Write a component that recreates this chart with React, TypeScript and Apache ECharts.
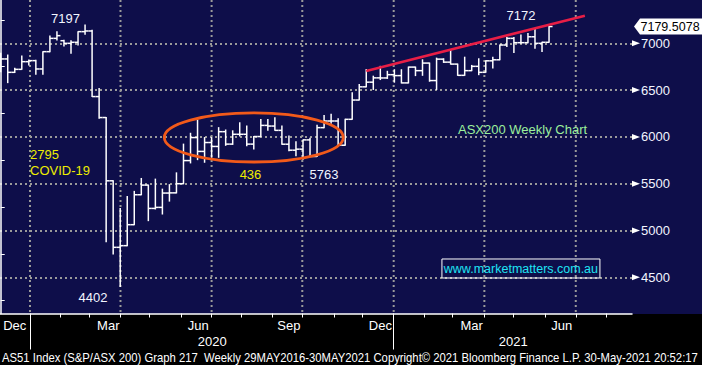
import React, { useEffect, useRef } from "react";
import * as echarts from "echarts";

// ---- weekly OHLC values (index 0 = first visible week, late Nov 2019) ----
const opens = [
  6850, 6833, 6690, 6722, 6804, 6815, 6726, 6911, 7053, 7028,
  7000, 7011, 7125, 7132, 6431, 6207, 5531, 4820, 4838, 5062,
  5382, 5485, 5236, 5247, 5400, 5402, 5500, 5747, 5993, 5845,
  5940, 5898, 6056, 5923, 6028, 6028, 5923, 6004, 6123, 6116,
  6070, 5922, 5858, 5869, 5968, 5791, 6099, 6170, 6170, 5911,
  6188, 6394, 6535, 6585, 6631, 6630, 6665, 6655, 6577, 6746,
  6708, 6789, 6602, 6831, 6799, 6778, 6658, 6708, 6754, 6690,
  6813, 6824, 6982, 7053, 7007, 7007, 7070, 7000, 7011,
];
const highs = [
  6893, 6875, 6733, 6864, 6822, 6820, 6911, 7078, 7125, 7032,
  7028, 7125, 7197, 7140, 6516, 6207, 5531, 5236, 5364, 5418,
  5556, 5485, 5549, 5442, 5490, 5616, 5923, 6039, 6180, 5993,
  5993, 6099, 6074, 6065, 6151, 6116, 6004, 6187, 6187, 6204,
  6117, 6011, 5947, 5968, 5985, 6124, 6230, 6241, 6195, 6188,
  6472, 6560, 6720, 6649, 6754, 6701, 6718, 6718, 6746, 6746,
  6824, 6789, 6842, 6835, 6930, 6778, 6852, 6764, 6835, 6813,
  6852, 6982, 7063, 7063, 7088, 7106, 7148, 7011, 7180,
];
const lows = [
  6697, 6580, 6687, 6722, 6768, 6669, 6669, 6911, 7036, 6972,
  6893, 6982, 7096, 6431, 6200, 4881, 4749, 4402, 4838, 5062,
  5382, 5105, 5230, 5176, 5314, 5402, 5500, 5722, 5757, 5729,
  5782, 5782, 5910, 5920, 6010, 5905, 5870, 6004, 6070, 6070,
  5922, 5851, 5798, 5762, 5791, 5791, 6099, 6145, 5911, 5911,
  6188, 6394, 6535, 6507, 6613, 6625, 6585, 6577, 6577, 6655,
  6658, 6595, 6507, 6796, 6778, 6658, 6658, 6708, 6665, 6690,
  6736, 6824, 6965, 6901, 7000, 7005, 6947, 6912, 7011,
];
const closes = [
  6833, 6690, 6722, 6804, 6815, 6726, 6911, 7053, 7082, 7000,
  7011, 7125, 7132, 6431, 6207, 5531, 4820, 4838, 5062, 5382,
  5485, 5236, 5247, 5400, 5402, 5500, 5747, 5993, 5845, 5940,
  5898, 6056, 5923, 6028, 6028, 5923, 6004, 6123, 6116, 6070,
  5922, 5858, 5869, 5968, 5791, 6099, 6170, 6170, 5911, 6188,
  6394, 6535, 6585, 6631, 6630, 6665, 6655, 6577, 6746, 6708,
  6789, 6602, 6831, 6799, 6778, 6658, 6708, 6754, 6690, 6813,
  6824, 6982, 7053, 7007, 7007, 7070, 7000, 7011, 7179.5078,
];
const lastPrice = 7179.5078;

// ---- axis definitions (positions in week index) ----
const monthLabels = ["Dec", "Mar", "Jun", "Sep", "Dec", "Mar", "Jun"];
const monthLabelPos = [2.0, 15.3, 28.1, 41.0, 54.0, 67.0, 79.8];
const monthTickPos = [
  4.17, 8.44, 12.56, 17.04, 21.17, 25.65, 30.0, 34.2, 38.6, 42.9,
  47.4, 51.5, 55.9, 60.2, 64.3, 68.8, 72.9, 77.4, 81.8, 86.1,
];
const quarterGridPos = [4.17, 17.04, 30.0, 42.9, 55.9, 68.8, 81.8];
const yearLabels = ["2020", "2021"];
const yearLabelPos = [30.1, 72.9];
const yearStartPos = [4.17, 55.9];
const priceTicks = [4500, 5000, 5500, 6000, 6500, 7000];

// ---- annotations ----
const trendLine = [
  [52, 6704],
  [83.1, 7295],
];
const ellipseNote = { cx: 36, cy: 5994, rx: 12.73, ry: 262 };
const notes = [
  { text: "7197", x: 9.22, y: 7265, kind: "white", align: "center" },
  { text: "2795", x: 4.17, y: 5812, kind: "yellow", align: "left" },
  { text: "COVID-19", x: 4.17, y: 5646, kind: "yellow", align: "left" },
  { text: "4402", x: 13.13, y: 4279, kind: "white", align: "center" },
  { text: "436", x: 35.53, y: 5598, kind: "yellow", align: "center" },
  { text: "5763", x: 45.99, y: 5593, kind: "white", align: "center" },
  { text: "7172", x: 74.01, y: 7302, kind: "white", align: "center" },
  { text: "ASX200 Weekly Chart", x: 74.23, y: 6074, kind: "green", align: "center" },
];
const watermark = { text: "www.marketmatters.com.au", x: 74.0, y: 4594 };
const footerText =
  "AS51 Index (S&P/ASX 200) Graph 217  Weekly 29MAY2016-30MAY2021 Copyright\u00A9 2021 Bloomberg Finance L.P. 30-May-2021 20:52:17";

const XMIN = -0.1;
const XMAX = 89.8;
const YMIN = 4113;
const YMAX = 7463;
const FONT = "'Liberation Sans', Arial, Helvetica, sans-serif";
const NAVY = "#0e0e4a";
const GRID_COLOR = "#9a9a9a";
const NOTE_COLORS: Record<string, string> = {
  white: "#f2f5ff",
  yellow: "#eded00",
  green: "#9cf09c",
};

function lookup(list: number[], names: string[], v: number) {
  for (let i = 0; i < list.length; i++) {
    if (Math.abs(list[i] - v) < 1e-6) return names[i];
  }
  return "";
}

export default function App() {
  const ref = useRef<HTMLDivElement>(null);

  useEffect(() => {
    if (!ref.current) return;
    const chart = echarts.init(ref.current, null, { renderer: "svg" });

    // measure footer width to compress it like the condensed terminal font
    let footerScale = 1;
    try {
      const ctx = document.createElement("canvas").getContext("2d");
      if (ctx) {
        ctx.font = "12px 'Liberation Sans'";
        const w = ctx.measureText(footerText).width;
        if (w > 0) footerScale = 697 / w;
      }
    } catch (e) {
      footerScale = 1;
    }

    const barData = opens.map((o, i) => [i, o, highs[i], lows[i], closes[i]]);

    const option: any = {
      animation: false,
      backgroundColor: "transparent",
      grid: { left: 0, top: 0, right: 70, bottom: 51.5, containLabel: false },
      xAxis: [
        {
          type: "value",
          min: XMIN,
          max: XMAX,
          position: "bottom",
          axisLine: { show: true, onZero: false, lineStyle: { color: "#ffffff", width: 1.5 } },
          axisTick: {
            show: true,
            customValues: monthTickPos,
            length: 4,
            lineStyle: { color: "#ffffff", width: 1 },
          },
          axisLabel: {
            show: true,
            customValues: monthLabelPos,
            formatter: (v: number) => lookup(monthLabelPos, monthLabels, v),
            color: "#ffffff",
            fontFamily: FONT,
            fontSize: 13,
            lineHeight: 13,
            margin: 5,
          },
          splitLine: { show: false },
        },
        {
          type: "value",
          min: XMIN,
          max: XMAX,
          position: "bottom",
          axisLine: { show: false, onZero: false },
          axisTick: {
            show: true,
            customValues: yearStartPos,
            length: 36,
            lineStyle: { color: "#ffffff", width: 1 },
          },
          axisLabel: {
            show: true,
            customValues: yearLabelPos,
            formatter: (v: number) => lookup(yearLabelPos, yearLabels, v),
            color: "#ffffff",
            fontFamily: FONT,
            fontSize: 13,
            lineHeight: 13,
            margin: 21,
          },
          splitLine: { show: false },
        },
      ],
      yAxis: {
        type: "value",
        position: "right",
        min: YMIN,
        max: YMAX,
        minInterval: 500,
        maxInterval: 500,
        splitNumber: 6,
        axisLine: { show: true, lineStyle: { color: "#ffffff", width: 1.5 } },
        axisTick: { show: false },
        minorTick: { show: true, splitNumber: 2, length: 4, lineStyle: { color: "#ffffff", width: 1 } },
        axisLabel: {
          show: true,
          showMinLabel: false,
          showMaxLabel: false,
          margin: 9,
          color: "#f2f5ff",
          fontFamily: FONT,
          fontSize: 13,
          formatter: (v: number) => (Math.abs(v % 500) < 1e-6 ? String(v) : ""),
        },
        splitLine: {
          show: true,
          showMinLine: false,
          showMaxLine: false,
          lineStyle: { color: GRID_COLOR, width: 2, type: [2, 3] },
        },
      },
      graphic: [
        {
          type: "text",
          x: 2,
          y: 357,
          scaleX: footerScale,
          silent: true,
          style: {
            text: footerText,
            fill: "#ffffff",
            fontSize: 12,
            fontFamily: FONT,
            align: "left",
            verticalAlign: "middle",
            textAlign: "left",
            textVerticalAlign: "middle",
          },
        },
      ],
      series: [
        {
          // quarterly vertical grid lines
          type: "custom",
          name: "vgrid",
          silent: true,
          z: 1,
          clip: true,
          data: quarterGridPos.map((v) => [v, YMIN]),
          encode: { x: 0, y: 1 },
          renderItem: (params: any, api: any) => {
            const v = api.value(0);
            const top = api.coord([v, YMAX]);
            const bot = api.coord([v, YMIN]);
            return {
              type: "line",
              shape: { x1: top[0], y1: top[1], x2: bot[0], y2: bot[1] },
              style: { stroke: GRID_COLOR, lineWidth: 2, lineDash: [2, 3] },
            };
          },
        },
        {
          // weekly OHLC bars
          type: "custom",
          name: "AS51",
          silent: true,
          z: 3,
          clip: true,
          data: barData,
          encode: { x: 0, y: [1, 2, 3, 4] },
          renderItem: (params: any, api: any) => {
            const x = api.value(0);
            const o = api.coord([x, api.value(1)]);
            const h = api.coord([x, api.value(2)]);
            const l = api.coord([x, api.value(3)]);
            const c = api.coord([x, api.value(4)]);
            const hw = api.size([1, 0])[0] / 2;
            const mk = () => ({ stroke: "#ffffff", lineWidth: 1.5 });
            return {
              type: "group",
              children: [
                { type: "line", shape: { x1: h[0], y1: h[1] - 0.5, x2: l[0], y2: l[1] + 0.5 }, style: mk() },
                { type: "line", shape: { x1: o[0] - hw, y1: o[1], x2: o[0], y2: o[1] }, style: mk() },
                { type: "line", shape: { x1: c[0], y1: c[1], x2: c[0] + hw, y2: c[1] }, style: mk() },
              ],
            };
          },
        },
        {
          // orange ellipse highlight
          type: "custom",
          name: "ellipse",
          silent: true,
          z: 4,
          clip: false,
          data: [[ellipseNote.cx, ellipseNote.cy, ellipseNote.rx, ellipseNote.ry]],
          encode: { x: 0, y: 1 },
          renderItem: (params: any, api: any) => {
            const p = api.coord([api.value(0), api.value(1)]);
            const rx = api.size([api.value(2), 0])[0];
            const ry = api.size([0, api.value(3)])[1];
            return {
              type: "ellipse",
              shape: { cx: p[0], cy: p[1], rx, ry },
              style: { fill: "none", stroke: "#f25a1a", lineWidth: 2.8 },
            };
          },
        },
        {
          // red trend line
          type: "line",
          name: "trend",
          silent: true,
          z: 4,
          symbol: "none",
          data: trendLine,
          lineStyle: { color: "#e81e46", width: 2.6 },
        },
        {
          // text annotations
          type: "custom",
          name: "notes",
          silent: true,
          z: 5,
          clip: false,
          data: notes.map((n) => [n.x, n.y]),
          encode: { x: 0, y: 1 },
          renderItem: (params: any, api: any) => {
            const n = notes[params.dataIndex];
            const p = api.coord([api.value(0), api.value(1)]);
            return {
              type: "text",
              x: p[0],
              y: p[1],
              style: {
                text: n.text,
                fill: NOTE_COLORS[n.kind],
                fontSize: 13,
                fontFamily: FONT,
                align: n.align,
                verticalAlign: "middle",
                textAlign: n.align,
                textVerticalAlign: "middle",
              },
            };
          },
        },
        {
          // web address box
          type: "custom",
          name: "watermark",
          silent: true,
          z: 5,
          clip: false,
          data: [[watermark.x, watermark.y]],
          encode: { x: 0, y: 1 },
          renderItem: (params: any, api: any) => {
            const p = api.coord([api.value(0), api.value(1)]);
            return {
              type: "group",
              children: [
                {
                  type: "rect",
                  shape: { x: p[0] - 79, y: p[1] - 9.5, width: 158, height: 19 },
                  style: { fill: "none", stroke: "#ffffff", lineWidth: 1 },
                },
                {
                  type: "text",
                  x: p[0],
                  y: p[1] + 0.5,
                  style: {
                    text: watermark.text,
                    fill: "#1ee4f4",
                    fontSize: 12.5,
                    fontFamily: FONT,
                    align: "center",
                    verticalAlign: "middle",
                    textAlign: "center",
                    textVerticalAlign: "middle",
                  },
                },
              ],
            };
          },
        },
        {
          // arrow markers on the price axis
          type: "custom",
          name: "axisArrows",
          silent: true,
          z: 6,
          clip: false,
          data: priceTicks.map((v) => [XMAX, v]),
          encode: { x: 0, y: 1 },
          renderItem: (params: any, api: any) => {
            const p = api.coord([api.value(0), api.value(1)]);
            return {
              type: "polygon",
              shape: { points: [[p[0], p[1] - 3], [p[0] + 8, p[1]], [p[0], p[1] + 3]] },
              style: { fill: "#ffffff" },
            };
          },
        },
        {
          // last price tag
          type: "custom",
          name: "lastPrice",
          silent: true,
          z: 7,
          clip: false,
          data: [[XMAX, lastPrice]],
          encode: { x: 0, y: 1 },
          renderItem: (params: any, api: any) => {
            const p = api.coord([api.value(0), api.value(1)]);
            const x = p[0];
            const y = p[1];
            return {
              type: "group",
              children: [
                {
                  type: "polygon",
                  shape: {
                    points: [
                      [x + 2, y],
                      [x + 8, y - 8],
                      [x + 70, y - 8],
                      [x + 70, y + 8],
                      [x + 8, y + 8],
                    ],
                  },
                  style: { fill: "#ffffff" },
                },
                {
                  type: "text",
                  x: x + 8.5,
                  y: y + 0.5,
                  style: {
                    text: lastPrice.toFixed(4),
                    fill: "#000000",
                    fontSize: 12.5,
                    fontFamily: FONT,
                    align: "left",
                    verticalAlign: "middle",
                    textAlign: "left",
                    textVerticalAlign: "middle",
                  },
                },
              ],
            };
          },
        },
      ],
    };

    chart.setOption(option);
    return () => {
      chart.dispose();
    };
  }, []);

  return (
    <div
      ref={ref}
      style={{
        position: "fixed",
        left: 0,
        top: 0,
        width: 702,
        height: 365,
        background: `linear-gradient(to bottom, ${NAVY} 0px, ${NAVY} 314px, #000000 314px, #000000 365px)`,
      }}
    />
  );
}
